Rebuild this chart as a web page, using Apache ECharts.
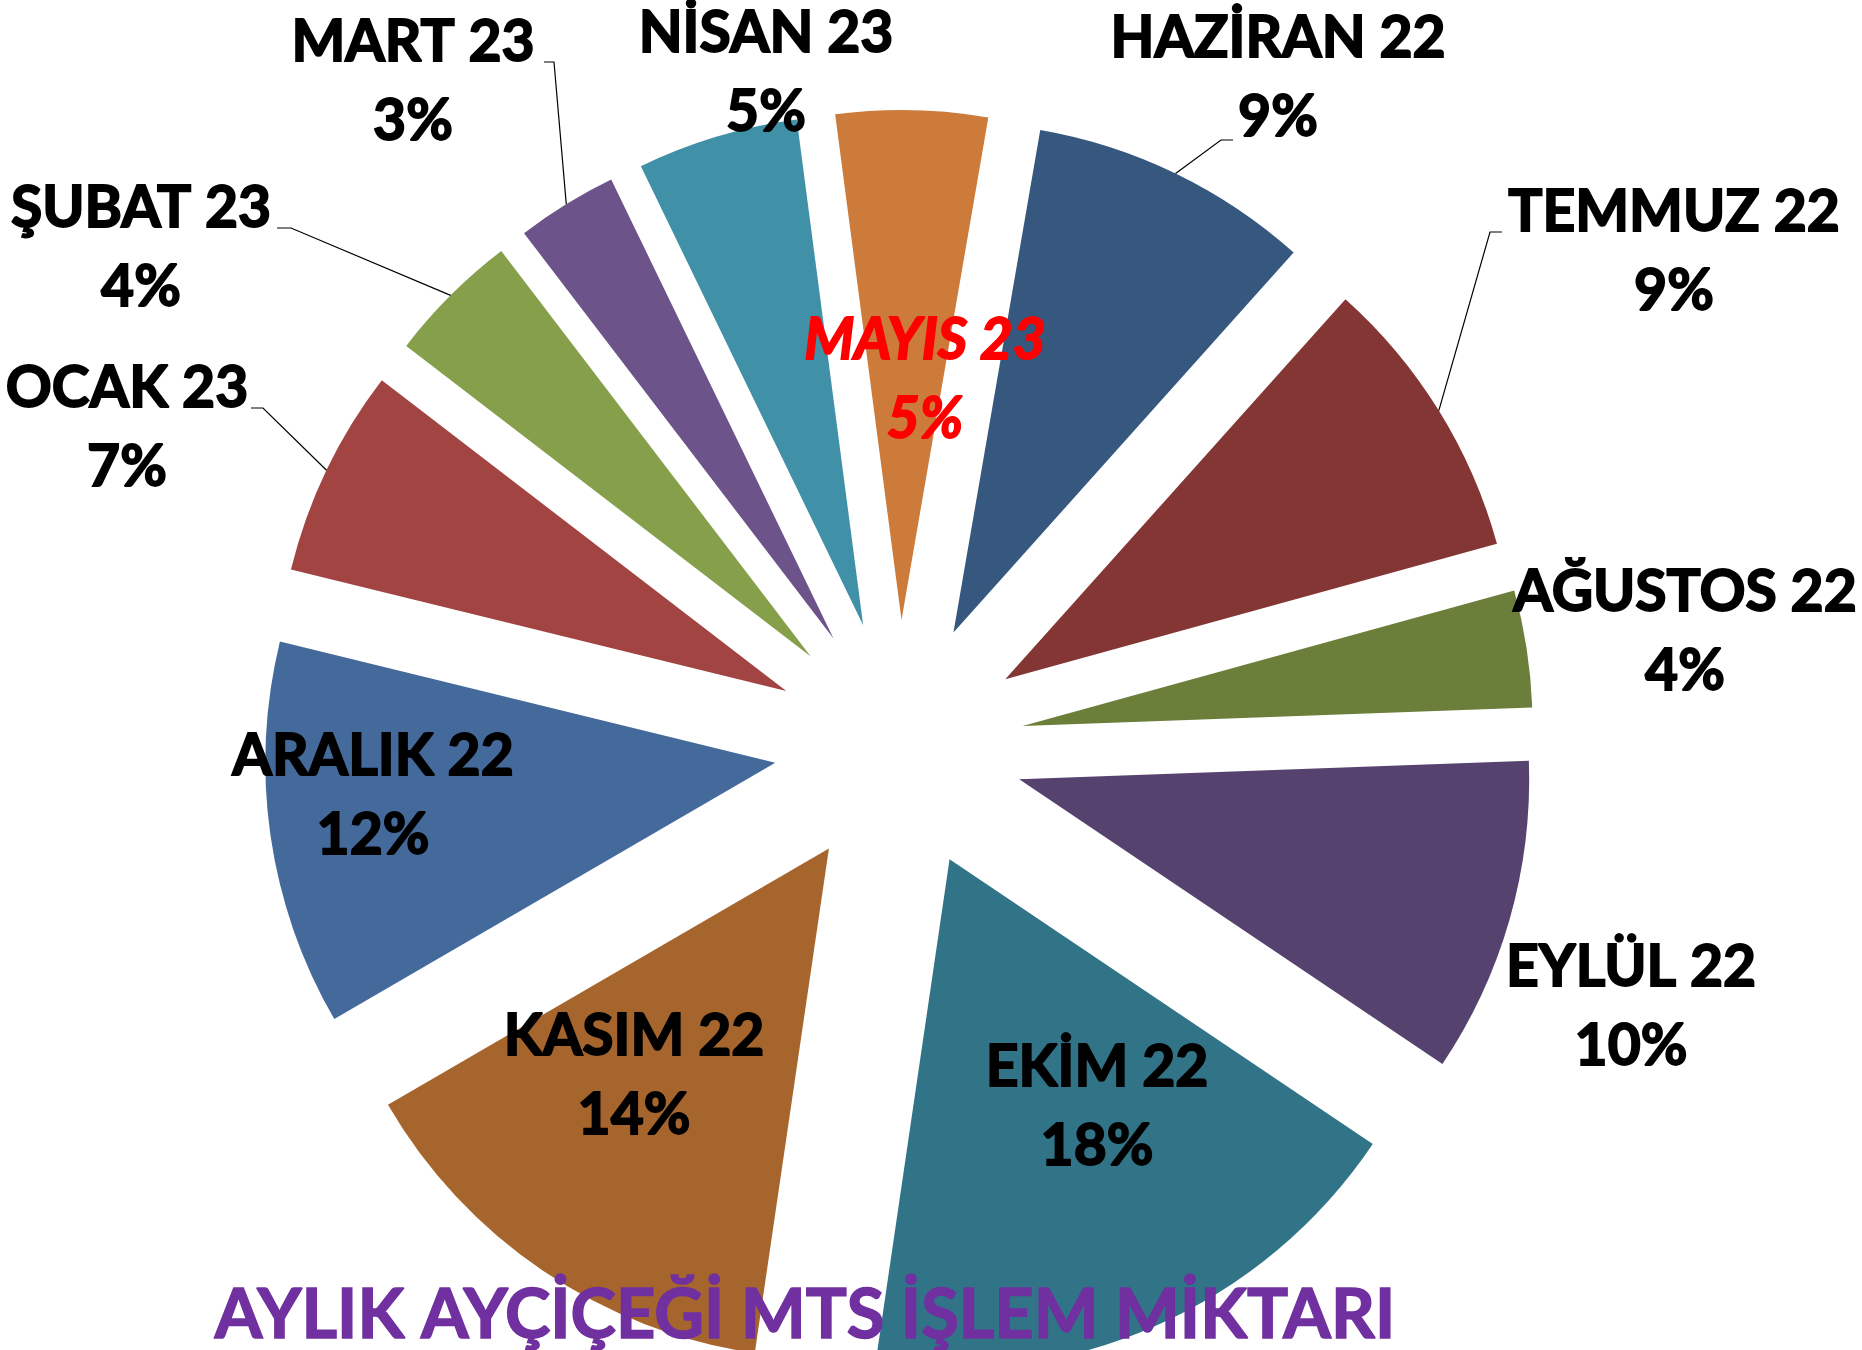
<!DOCTYPE html>
<html>
<head>
<meta charset="utf-8">
<script src="https://cdn.jsdelivr.net/npm/echarts@6/dist/echarts.min.js"></script>
<style>
html,body{margin:0;padding:0;background:#ffffff;}
#chart{width:1862px;height:1350px;}
</style>
</head>
<body>
<div id="chart"></div>
<script>
// ---- data (clockwise from HAZİRAN 22) ----
const months = ['HAZİRAN 22','TEMMUZ 22','AĞUSTOS 22','EYLÜL 22','EKİM 22','KASIM 22','ARALIK 22','OCAK 23','ŞUBAT 23','MART 23','NİSAN 23','MAYIS 23'];
const shares = [8.9, 9.1, 3.7, 10.0, 17.9, 14.3, 12.2, 6.6, 4.2, 3.2, 5.1, 4.8];
const chartTitle = 'AYLIK AYÇİÇEĞİ MTS İŞLEM MİKTARI';

// ---- styles / layout ----
const sliceColors = ['#36587F','#843634','#6B7F3B','#55426E','#317487','#A7652E','#44699B','#A14442','#859F4B','#6C5389','#4090A8','#CD7B3A'];
const CX = 899, CY = 745, R = 510, OFFSET = 125, START = 80.2;
// label block centres (px)
const labelCenters = [
  [1278, 78], [1674, 252], [1685, 632], [1631, 1007], [1097, 1107], [634, 1076],
  [373, 796], [127, 428], [141, 248], [413, 82], [766, 73], [925, 380]
];
// leader-line knee + stub end (px); null = no leader line
const leaderKnees = [
  [[1221,140],[1233,140]], [[1490,232],[1502,232]], null, null, null, null,
  null, [[263,408],[251,408]], [[291,228],[277,228]], [[554,62],[544,62]], null, null
];

const chart = echarts.init(document.getElementById('chart'), null, {renderer: 'canvas'});

// exploded slices
const sliceData = months.map((m, i) => ({
  name: m, value: shares[i], selected: true,
  itemStyle: { color: sliceColors[i] }
}));

// label carrier (same geometry, invisible sectors)
const labelData = months.map((m, i) => {
  const item = {
    name: m, value: shares[i],
    itemStyle: { color: 'rgba(0,0,0,0)' },
    labelLine: { show: !!leaderKnees[i] }
  };
  if (m === 'MAYIS 23') item.label = { color: '#FF0000', textBorderColor: '#FF0000', fontStyle: 'italic' };
  return item;
});

chart.setOption({
  backgroundColor: '#ffffff',
  animation: false,
  title: {
    text: chartTitle,
    left: 805,
    top: 1316,
    padding: 0,
    textAlign: 'center',
    textVerticalAlign: 'middle',
    textStyle: { color: '#7030A0', fontFamily: 'Lato', fontWeight: 'bold', fontSize: 68.5,
                 textBorderColor: '#7030A0', textBorderWidth: 1.5 }
  },
  series: [{
    type: 'pie',
    center: [CX, CY],
    radius: [0, R],
    startAngle: START,
    clockwise: true,
    selectedMode: 'multiple',
    selectedOffset: OFFSET,
    silent: true,
    emphasis: { disabled: true },
    itemStyle: { borderWidth: 0 },
    label: { show: false },
    labelLine: { show: false },
    data: sliceData
  }, {
    type: 'pie',
    center: [CX, CY],
    radius: [0, R],
    startAngle: START,
    clockwise: true,
    selectedMode: false,
    silent: true,
    z: 3,
    avoidLabelOverlap: false,
    emphasis: { disabled: true },
    itemStyle: { borderWidth: 0 },
    label: {
      show: true,
      position: 'outside',
      fontFamily: 'Lato',
      fontWeight: 'bold',
      fontSize: 57,
      lineHeight: 79,
      color: '#000000',
      textBorderColor: '#000000',
      textBorderWidth: 1.8,
      align: 'center',
      formatter: p => p.name + '\n' + Math.round(p.percent) + '%'
    },
    labelLine: { show: false, lineStyle: { color: '#000000', width: 1.2 } },
    labelLayout: function (p) {
      const c = labelCenters[p.dataIndex];
      const out = { x: c[0], y: c[1], align: 'center', verticalAlign: 'middle' };
      const knee = leaderKnees[p.dataIndex];
      if (knee && p.labelLinePoints) {
        const a = p.labelLinePoints[0];
        const vx = a[0] - CX, vy = a[1] - CY;
        const len = Math.hypot(vx, vy) || 1;
        const start = [CX + vx / len * (R + OFFSET), CY + vy / len * (R + OFFSET)];
        out.labelLinePoints = [start, knee[0], knee[1]];
      }
      return out;
    },
    data: labelData
  }]
});
</script>
</body>
</html>
